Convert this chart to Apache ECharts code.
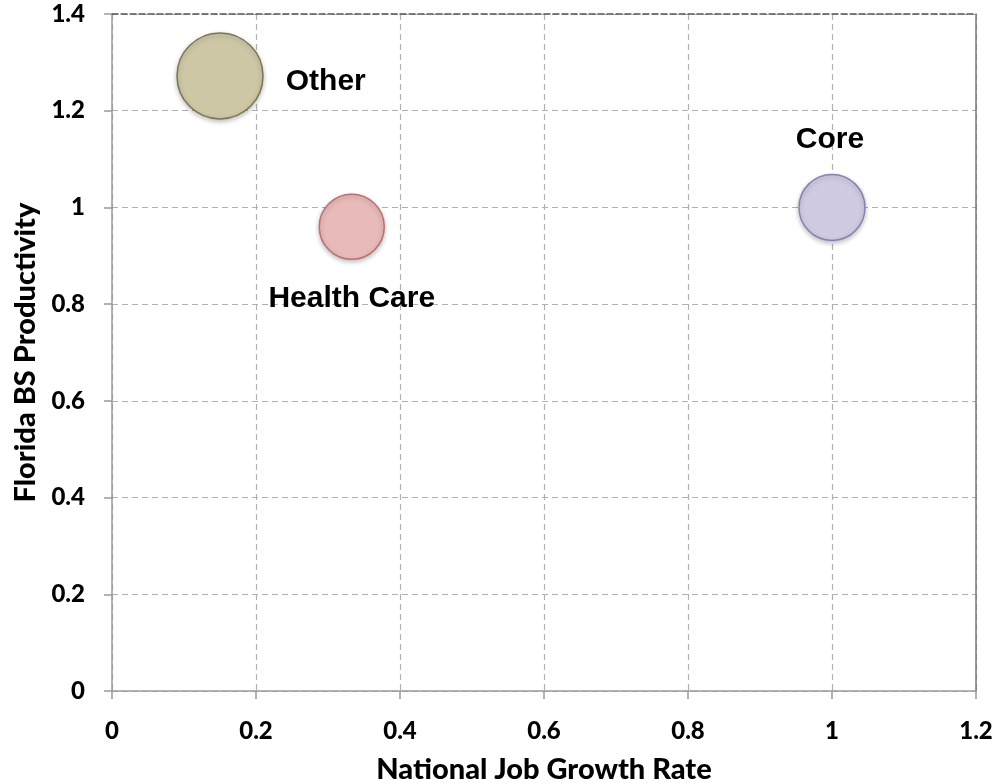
<!DOCTYPE html>
<html>
<head>
<meta charset="utf-8">
<script src="https://cdn.jsdelivr.net/npm/echarts@6/dist/echarts.min.js"></script>
<style>
  html, body { margin: 0; padding: 0; background: #fff; }
  #chart { width: 998px; height: 783px; }
</style>
</head>
<body>
<div id="chart"></div>
<script>
// Industry groups plotted as bubbles
const groups = ['Other', 'Health Care', 'Core'];
const jobGrowth = [0.15, 0.333, 1.0];        // National Job Growth Rate
const productivity = [1.272, 0.96, 1.0];     // Florida BS Productivity
const weight = [175, 100, 103];              // relative bubble weight
const xTicks = [0, 0.2, 0.4, 0.6, 0.8, 1, 1.2];
const yTicks = [0, 0.2, 0.4, 0.6, 0.8, 1, 1.2, 1.4];

const fills = ['#cdc7a6', '#e9baba', '#d0cae3'];
const borders = ['#7d7455', '#b97070', '#8a80ad'];
const labelPlace = [
  { position: 'right', distance: 22, offset: [0, 6] },
  { position: 'bottom', distance: 24, offset: [0, 0] },
  { position: 'top', distance: 19, offset: [-2, 0] }
];

const tickFont = { fontFamily: 'Lato', fontWeight: 900, fontSize: 24, color: '#000' };
const nameFont = { fontFamily: 'Lato', fontWeight: 900, fontSize: 29, color: '#000' };

const chart = echarts.init(document.getElementById('chart'));
chart.setOption({
  animation: false,
  grid: { left: 112, right: 22, top: 14, bottom: 92, containLabel: false, outerBoundsMode: 'none' },
  xAxis: [{
    type: 'value', min: 0, max: 1.2, interval: 0.2,
    name: 'National Job Growth Rate', nameLocation: 'middle', nameGap: 64,
    nameTextStyle: nameFont,
    axisLine: { show: true, lineStyle: { color: '#9a9a9a', width: 1.5 } },
    axisTick: { show: true, length: 8, lineStyle: { color: '#9a9a9a', width: 1.5 } },
    axisLabel: Object.assign({ margin: 28, formatter: v => String(xTicks.find(t => Math.abs(t - v) < 1e-9) ?? v) }, tickFont),
    splitLine: { show: true, lineStyle: { color: '#b0b0b0', type: [6, 4], width: 1.2 } }
  }, {
    type: 'value', position: 'top', min: 0, max: 1.2,
    axisLine: { show: true, onZero: false, lineStyle: { color: '#555', type: [6, 3], width: 1.5 } },
    axisTick: { show: false }, axisLabel: { show: false }, splitLine: { show: false }
  }],
  yAxis: [{
    type: 'value', min: 0, max: 1.4, interval: 0.2,
    name: 'Florida BS Productivity', nameLocation: 'middle', nameGap: 66, nameRotate: 90,
    nameTextStyle: nameFont,
    axisLine: { show: true, lineStyle: { color: '#9a9a9a', width: 1.5 } },
    axisTick: { show: true, length: 8, lineStyle: { color: '#9a9a9a', width: 1.5 } },
    axisLabel: Object.assign({ margin: 27, formatter: v => String(yTicks.find(t => Math.abs(t - v) < 1e-9) ?? v) }, tickFont),
    splitLine: { show: true, lineStyle: { color: '#b0b0b0', type: [6, 4], width: 1.2 } }
  }, {
    type: 'value', position: 'right', min: 0, max: 1.4,
    axisLine: { show: true, onZero: false, lineStyle: { color: '#777', width: 1.5 } },
    axisTick: { show: false }, axisLabel: { show: false }, splitLine: { show: false }
  }],
  series: [{
    type: 'scatter',
    data: groups.map((g, i) => ({
      name: g,
      value: [jobGrowth[i], productivity[i], weight[i]],
      itemStyle: {
        color: fills[i], borderColor: borders[i], borderWidth: 1.5, opacity: 1,
        shadowColor: 'rgba(0,0,0,0.25)', shadowBlur: 5, shadowOffsetY: 2
      },
      label: Object.assign({
        show: true, formatter: '{b}', opacity: 1,
        fontFamily: 'Liberation Sans', fontWeight: 'bold', fontSize: 30, color: '#000'
      }, labelPlace[i])
    })),
    symbolSize: v => 6.5 * Math.sqrt(v[2])
  }]
});
</script>
</body>
</html>
